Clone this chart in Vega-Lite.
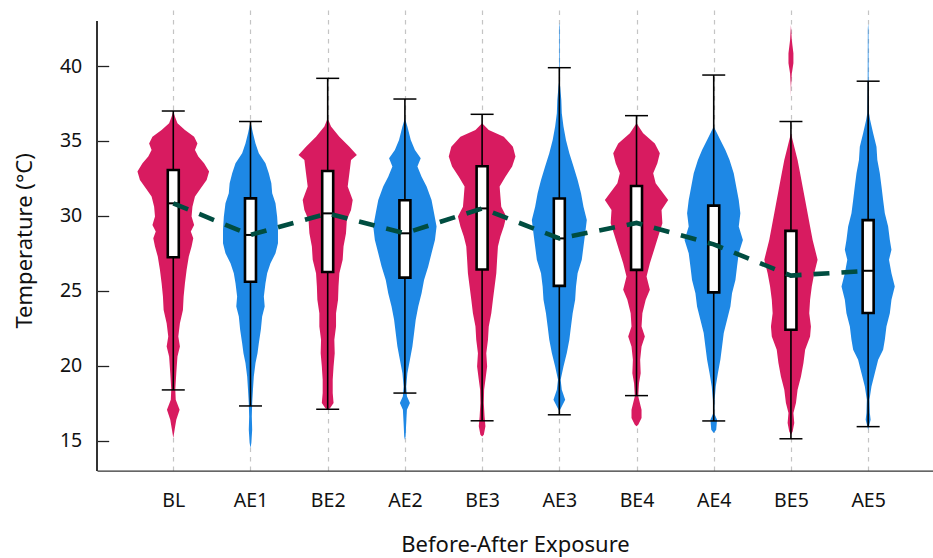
{
  "$schema": "https://vega.github.io/schema/vega-lite/v6.json",
  "width": 836,
  "height": 460.7,
  "autosize": {"type": "none"},
  "padding": {"left": 97, "top": 10, "right": 0, "bottom": 87.3},
  "background": "white",
  "config": {
    "view": {"stroke": null},
    "font": "Noto Sans",
    "axis": {
      "labelFont": "Noto Sans",
      "labelFontSize": 19.5,
      "labelColor": "#111111",
      "titleFont": "Noto Sans",
      "titleFontSize": 22,
      "titleFontWeight": "normal",
      "titleColor": "#111111"
    },
    "axisX": {
      "grid": true,
      "gridColor": "#c4c4c4",
      "gridDash": [4.5, 5],
      "gridWidth": 1.2,
      "ticks": false,
      "domainColor": "#333333",
      "domainWidth": 1.2,
      "labelPadding": 21,
      "labelFlush": false,
      "labelOverlap": false,
      "titlePadding": 24
    },
    "axisY": {
      "grid": false,
      "domain": false,
      "tickSize": -11.7,
      "tickColor": "#222222",
      "tickWidth": 1.3,
      "labelPadding": 27,
      "titlePadding": 23
    }
  },
  "datasets": {
    "summary": [
      {"g": "BL", "i": 1, "p": "Before", "lo": 18.39, "q1": 27.24, "med": 30.84, "q3": 33.06, "hi": 37.0},
      {"g": "AE1", "i": 2, "p": "After", "lo": 17.32, "q1": 25.61, "med": 28.73, "q3": 31.17, "hi": 36.3},
      {"g": "BE2", "i": 3, "p": "Before", "lo": 17.1, "q1": 26.26, "med": 30.17, "q3": 33.0, "hi": 39.18},
      {"g": "AE2", "i": 4, "p": "After", "lo": 18.18, "q1": 25.88, "med": 28.84, "q3": 31.05, "hi": 37.8},
      {"g": "BE3", "i": 5, "p": "Before", "lo": 16.33, "q1": 26.42, "med": 30.5, "q3": 33.31, "hi": 36.78},
      {"g": "AE3", "i": 6, "p": "After", "lo": 16.73, "q1": 25.33, "med": 28.5, "q3": 31.16, "hi": 39.89},
      {"g": "BE4", "i": 7, "p": "Before", "lo": 18.01, "q1": 26.4, "med": 29.53, "q3": 32.0, "hi": 36.69},
      {"g": "AE4", "i": 8, "p": "After", "lo": 16.32, "q1": 24.9, "med": 28.1, "q3": 30.69, "hi": 39.4},
      {"g": "BE5", "i": 9, "p": "Before", "lo": 15.13, "q1": 22.4, "med": 26.02, "q3": 29.0, "hi": 36.3},
      {"g": "AE5", "i": 10, "p": "After", "lo": 15.94, "q1": 23.52, "med": 26.34, "q3": 29.72, "hi": 38.99}
    ],
    "violin": [
      {"g":"BL","t":36.96,"w":0},{"g":"BL","t":36.62,"w":0.022},{"g":"BL","t":36.18,"w":0.054},{"g":"BL","t":35.73,"w":0.151},{"g":"BL","t":35.29,"w":0.27},{"g":"BL","t":34.84,"w":0.313},{"g":"BL","t":34.4,"w":0.281},{"g":"BL","t":33.96,"w":0.324},{"g":"BL","t":33.51,"w":0.399},{"g":"BL","t":32.96,"w":0.464},{"g":"BL","t":32.4,"w":0.432},{"g":"BL","t":31.84,"w":0.356},{"g":"BL","t":31.29,"w":0.281},{"g":"BL","t":30.62,"w":0.248},{"g":"BL","t":29.96,"w":0.237},{"g":"BL","t":29.4,"w":0.27},{"g":"BL","t":28.96,"w":0.227},{"g":"BL","t":28.51,"w":0.259},{"g":"BL","t":27.96,"w":0.237},{"g":"BL","t":27.29,"w":0.201},{"g":"BL","t":26.4,"w":0.173},{"g":"BL","t":25.51,"w":0.151},{"g":"BL","t":24.62,"w":0.134},{"g":"BL","t":23.73,"w":0.125},{"g":"BL","t":22.84,"w":0.086},{"g":"BL","t":21.96,"w":0.065},{"g":"BL","t":21.29,"w":0.086},{"g":"BL","t":20.62,"w":0.054},{"g":"BL","t":19.51,"w":0.039},{"g":"BL","t":18.4,"w":0.026},{"g":"BL","t":17.73,"w":0.032},{"g":"BL","t":17.07,"w":0.082},{"g":"BL","t":16.4,"w":0.039},{"g":"BL","t":15.73,"w":0.017},{"g":"BL","t":15.18,"w":0},
      {"g":"AE1","t":36.29,"w":0},{"g":"AE1","t":35.51,"w":0.032},{"g":"AE1","t":34.84,"w":0.065},{"g":"AE1","t":34.18,"w":0.108},{"g":"AE1","t":33.51,"w":0.194},{"g":"AE1","t":32.84,"w":0.237},{"g":"AE1","t":32.18,"w":0.27},{"g":"AE1","t":31.51,"w":0.281},{"g":"AE1","t":30.84,"w":0.324},{"g":"AE1","t":29.96,"w":0.345},{"g":"AE1","t":29.07,"w":0.356},{"g":"AE1","t":28.18,"w":0.356},{"g":"AE1","t":27.51,"w":0.324},{"g":"AE1","t":26.84,"w":0.259},{"g":"AE1","t":26.18,"w":0.216},{"g":"AE1","t":25.51,"w":0.194},{"g":"AE1","t":24.62,"w":0.173},{"g":"AE1","t":23.95,"w":0.184},{"g":"AE1","t":23.29,"w":0.151},{"g":"AE1","t":22.4,"w":0.134},{"g":"AE1","t":21.51,"w":0.108},{"g":"AE1","t":20.84,"w":0.091},{"g":"AE1","t":20.18,"w":0.065},{"g":"AE1","t":19.29,"w":0.043},{"g":"AE1","t":18.4,"w":0.032},{"g":"AE1","t":17.51,"w":0.022},{"g":"AE1","t":16.62,"w":0.017},{"g":"AE1","t":15.73,"w":0.022},{"g":"AE1","t":14.84,"w":0.011},{"g":"AE1","t":14.51,"w":0},
      {"g":"BE2","t":36.51,"w":0},{"g":"BE2","t":35.96,"w":0.043},{"g":"BE2","t":35.29,"w":0.151},{"g":"BE2","t":34.62,"w":0.281},{"g":"BE2","t":34.07,"w":0.378},{"g":"BE2","t":33.73,"w":0.302},{"g":"BE2","t":32.84,"w":0.281},{"g":"BE2","t":31.96,"w":0.259},{"g":"BE2","t":31.07,"w":0.324},{"g":"BE2","t":30.4,"w":0.302},{"g":"BE2","t":29.73,"w":0.248},{"g":"BE2","t":28.84,"w":0.237},{"g":"BE2","t":27.96,"w":0.205},{"g":"BE2","t":27.07,"w":0.194},{"g":"BE2","t":26.18,"w":0.151},{"g":"BE2","t":25.29,"w":0.14},{"g":"BE2","t":24.4,"w":0.134},{"g":"BE2","t":23.51,"w":0.108},{"g":"BE2","t":22.62,"w":0.108},{"g":"BE2","t":21.73,"w":0.086},{"g":"BE2","t":20.84,"w":0.091},{"g":"BE2","t":19.96,"w":0.076},{"g":"BE2","t":19.07,"w":0.065},{"g":"BE2","t":18.18,"w":0.065},{"g":"BE2","t":17.51,"w":0.076},{"g":"BE2","t":17.18,"w":0.032},{"g":"BE2","t":17.07,"w":0},
      {"g":"AE2","t":36.51,"w":0},{"g":"AE2","t":35.96,"w":0.032},{"g":"AE2","t":35.07,"w":0.076},{"g":"AE2","t":34.4,"w":0.13},{"g":"AE2","t":33.84,"w":0.205},{"g":"AE2","t":33.29,"w":0.162},{"g":"AE2","t":32.62,"w":0.216},{"g":"AE2","t":31.96,"w":0.281},{"g":"AE2","t":31.07,"w":0.345},{"g":"AE2","t":30.18,"w":0.378},{"g":"AE2","t":29.29,"w":0.41},{"g":"AE2","t":28.4,"w":0.389},{"g":"AE2","t":27.51,"w":0.345},{"g":"AE2","t":26.62,"w":0.302},{"g":"AE2","t":25.73,"w":0.248},{"g":"AE2","t":24.84,"w":0.216},{"g":"AE2","t":23.95,"w":0.173},{"g":"AE2","t":23.07,"w":0.14},{"g":"AE2","t":22.18,"w":0.119},{"g":"AE2","t":21.29,"w":0.097},{"g":"AE2","t":20.4,"w":0.065},{"g":"AE2","t":19.51,"w":0.032},{"g":"AE2","t":18.62,"w":0.017},{"g":"AE2","t":17.96,"w":0.026},{"g":"AE2","t":17.51,"w":0.065},{"g":"AE2","t":17.07,"w":0.026},{"g":"AE2","t":16.18,"w":0.017},{"g":"AE2","t":15.29,"w":0.009},{"g":"AE2","t":15.07,"w":0},
      {"g":"BE3","t":36.18,"w":0},{"g":"BE3","t":35.74,"w":0.086},{"g":"BE3","t":35.29,"w":0.281},{"g":"BE3","t":34.62,"w":0.399},{"g":"BE3","t":33.96,"w":0.432},{"g":"BE3","t":33.29,"w":0.389},{"g":"BE3","t":32.62,"w":0.302},{"g":"BE3","t":31.96,"w":0.227},{"g":"BE3","t":31.29,"w":0.237},{"g":"BE3","t":30.62,"w":0.248},{"g":"BE3","t":29.96,"w":0.313},{"g":"BE3","t":29.29,"w":0.281},{"g":"BE3","t":28.62,"w":0.237},{"g":"BE3","t":27.96,"w":0.205},{"g":"BE3","t":27.07,"w":0.194},{"g":"BE3","t":26.18,"w":0.184},{"g":"BE3","t":25.29,"w":0.162},{"g":"BE3","t":24.4,"w":0.14},{"g":"BE3","t":23.51,"w":0.119},{"g":"BE3","t":22.62,"w":0.086},{"g":"BE3","t":21.73,"w":0.076},{"g":"BE3","t":20.84,"w":0.054},{"g":"BE3","t":19.96,"w":0.065},{"g":"BE3","t":19.07,"w":0.043},{"g":"BE3","t":18.4,"w":0.026},{"g":"BE3","t":17.51,"w":0.022},{"g":"BE3","t":16.62,"w":0.032},{"g":"BE3","t":15.96,"w":0.043},{"g":"BE3","t":15.4,"w":0.022},{"g":"BE3","t":15.29,"w":0},
      {"g":"AE3","t":42.9,"w":0},{"g":"AE3","t":42.6,"w":0.004},{"g":"AE3","t":38.9,"w":0.004},{"g":"AE3","t":38.62,"w":0.011},{"g":"AE3","t":37.73,"w":0.026},{"g":"AE3","t":36.85,"w":0.032},{"g":"AE3","t":35.96,"w":0.054},{"g":"AE3","t":35.07,"w":0.086},{"g":"AE3","t":34.18,"w":0.13},{"g":"AE3","t":33.29,"w":0.184},{"g":"AE3","t":32.4,"w":0.237},{"g":"AE3","t":31.51,"w":0.281},{"g":"AE3","t":30.62,"w":0.313},{"g":"AE3","t":29.73,"w":0.356},{"g":"AE3","t":28.85,"w":0.335},{"g":"AE3","t":27.96,"w":0.313},{"g":"AE3","t":27.07,"w":0.291},{"g":"AE3","t":26.18,"w":0.237},{"g":"AE3","t":25.29,"w":0.216},{"g":"AE3","t":24.4,"w":0.205},{"g":"AE3","t":23.51,"w":0.173},{"g":"AE3","t":22.62,"w":0.151},{"g":"AE3","t":21.73,"w":0.13},{"g":"AE3","t":20.85,"w":0.097},{"g":"AE3","t":19.96,"w":0.054},{"g":"AE3","t":19.07,"w":0.017},{"g":"AE3","t":18.4,"w":0.032},{"g":"AE3","t":17.73,"w":0.076},{"g":"AE3","t":17.18,"w":0.022},{"g":"AE3","t":16.96,"w":0},
      {"g":"BE4","t":36.18,"w":0},{"g":"BE4","t":35.51,"w":0.086},{"g":"BE4","t":34.84,"w":0.237},{"g":"BE4","t":34.18,"w":0.302},{"g":"BE4","t":33.51,"w":0.27},{"g":"BE4","t":32.84,"w":0.216},{"g":"BE4","t":32.18,"w":0.248},{"g":"BE4","t":31.51,"w":0.345},{"g":"BE4","t":31.07,"w":0.41},{"g":"BE4","t":30.4,"w":0.324},{"g":"BE4","t":29.51,"w":0.335},{"g":"BE4","t":28.62,"w":0.281},{"g":"BE4","t":27.73,"w":0.227},{"g":"BE4","t":26.84,"w":0.173},{"g":"BE4","t":25.96,"w":0.13},{"g":"BE4","t":25.07,"w":0.173},{"g":"BE4","t":24.4,"w":0.119},{"g":"BE4","t":23.51,"w":0.076},{"g":"BE4","t":22.62,"w":0.065},{"g":"BE4","t":21.96,"w":0.108},{"g":"BE4","t":21.29,"w":0.065},{"g":"BE4","t":20.4,"w":0.047},{"g":"BE4","t":19.51,"w":0.054},{"g":"BE4","t":18.84,"w":0.032},{"g":"BE4","t":17.96,"w":0.022},{"g":"BE4","t":17.07,"w":0.065},{"g":"BE4","t":16.51,"w":0.065},{"g":"BE4","t":16.07,"w":0.022},{"g":"BE4","t":15.96,"w":0},
      {"g":"AE4","t":35.96,"w":0},{"g":"AE4","t":35.07,"w":0.086},{"g":"AE4","t":34.4,"w":0.151},{"g":"AE4","t":33.73,"w":0.205},{"g":"AE4","t":32.84,"w":0.259},{"g":"AE4","t":31.96,"w":0.291},{"g":"AE4","t":31.07,"w":0.324},{"g":"AE4","t":30.18,"w":0.345},{"g":"AE4","t":29.29,"w":0.324},{"g":"AE4","t":28.4,"w":0.378},{"g":"AE4","t":27.51,"w":0.324},{"g":"AE4","t":26.62,"w":0.302},{"g":"AE4","t":25.73,"w":0.281},{"g":"AE4","t":24.84,"w":0.237},{"g":"AE4","t":23.96,"w":0.216},{"g":"AE4","t":23.07,"w":0.173},{"g":"AE4","t":22.18,"w":0.13},{"g":"AE4","t":21.29,"w":0.108},{"g":"AE4","t":20.4,"w":0.086},{"g":"AE4","t":19.51,"w":0.054},{"g":"AE4","t":18.62,"w":0.026},{"g":"AE4","t":17.73,"w":0.011},{"g":"AE4","t":16.84,"w":0.006},{"g":"AE4","t":16.4,"w":0.043},{"g":"AE4","t":15.73,"w":0.032},{"g":"AE4","t":15.51,"w":0},
      {"g":"BE5","t":42.74,"w":0},{"g":"BE5","t":41.74,"w":0.011},{"g":"BE5","t":40.85,"w":0.032},{"g":"BE5","t":40.18,"w":0.032},{"g":"BE5","t":39.51,"w":0.011},{"g":"BE5","t":38.62,"w":0.002},{"g":"BE5","t":37.96,"w":0},{"g":"BE5","t":35.51,"w":0},{"g":"BE5","t":34.62,"w":0.043},{"g":"BE5","t":33.73,"w":0.086},{"g":"BE5","t":32.85,"w":0.119},{"g":"BE5","t":31.96,"w":0.151},{"g":"BE5","t":31.07,"w":0.184},{"g":"BE5","t":30.18,"w":0.216},{"g":"BE5","t":29.29,"w":0.248},{"g":"BE5","t":28.4,"w":0.281},{"g":"BE5","t":27.51,"w":0.324},{"g":"BE5","t":27.07,"w":0.345},{"g":"BE5","t":26.18,"w":0.302},{"g":"BE5","t":25.29,"w":0.27},{"g":"BE5","t":24.4,"w":0.248},{"g":"BE5","t":23.51,"w":0.237},{"g":"BE5","t":22.62,"w":0.259},{"g":"BE5","t":21.96,"w":0.248},{"g":"BE5","t":21.07,"w":0.184},{"g":"BE5","t":20.18,"w":0.162},{"g":"BE5","t":19.29,"w":0.13},{"g":"BE5","t":18.4,"w":0.086},{"g":"BE5","t":17.51,"w":0.065},{"g":"BE5","t":16.85,"w":0.032},{"g":"BE5","t":16.18,"w":0.043},{"g":"BE5","t":15.62,"w":0.022},{"g":"BE5","t":15.4,"w":0},
      {"g":"AE5","t":42.85,"w":0},{"g":"AE5","t":42.5,"w":0.004},{"g":"AE5","t":38.62,"w":0.006},{"g":"AE5","t":36.85,"w":0.011},{"g":"AE5","t":36.4,"w":0.026},{"g":"AE5","t":35.51,"w":0.065},{"g":"AE5","t":34.62,"w":0.108},{"g":"AE5","t":33.73,"w":0.119},{"g":"AE5","t":32.85,"w":0.151},{"g":"AE5","t":31.96,"w":0.173},{"g":"AE5","t":31.07,"w":0.194},{"g":"AE5","t":30.18,"w":0.216},{"g":"AE5","t":29.29,"w":0.259},{"g":"AE5","t":28.4,"w":0.281},{"g":"AE5","t":27.74,"w":0.302},{"g":"AE5","t":27.07,"w":0.27},{"g":"AE5","t":26.18,"w":0.302},{"g":"AE5","t":25.29,"w":0.345},{"g":"AE5","t":24.4,"w":0.302},{"g":"AE5","t":23.51,"w":0.281},{"g":"AE5","t":22.62,"w":0.237},{"g":"AE5","t":21.73,"w":0.216},{"g":"AE5","t":21.07,"w":0.194},{"g":"AE5","t":20.4,"w":0.13},{"g":"AE5","t":19.51,"w":0.086},{"g":"AE5","t":18.62,"w":0.043},{"g":"AE5","t":17.74,"w":0.017},{"g":"AE5","t":16.85,"w":0.022},{"g":"AE5","t":16.4,"w":0.032},{"g":"AE5","t":15.96,"w":0.011},{"g":"AE5","t":15.74,"w":0}
    ]
  },
  "layer": [
    {
      "data": {"name": "violin"},
      "transform": [
        {"calculate": "indexof(['BL', 'AE1', 'BE2', 'AE2', 'BE3', 'AE3', 'BE4', 'AE4', 'BE5', 'AE5'], datum.g) + 1", "as": "i"},
        {"calculate": "substring(datum.g, 0, 1) == 'A' ? 'After' : 'Before'", "as": "p"},
        {"calculate": "datum.i - datum.w", "as": "left"},
        {"calculate": "datum.i + datum.w", "as": "right"}
      ],
      "mark": {"type": "area", "orient": "horizontal", "interpolate": "linear", "opacity": 1},
      "encoding": {
        "y": {
          "field": "t", "type": "quantitative",
          "scale": {"domain": [13, 43.74], "nice": false, "zero": false},
          "axis": {
            "title": "Temperature (°C)",
            "values": [15, 20, 25, 30, 35, 40]
          }
        },
        "x": {
          "field": "left", "type": "quantitative",
          "scale": {"domain": [0.012, 10.84], "nice": false, "zero": false, "padding": 0},
          "axis": {
            "title": "Before-After Exposure",
            "values": [1, 2, 3, 4, 5, 6, 7, 8, 9, 10],
            "labelExpr": "['', 'BL', 'AE1', 'BE2', 'AE2', 'BE3', 'AE3', 'BE4', 'AE4', 'BE5', 'AE5'][datum.value]"
          }
        },
        "x2": {"field": "right"},
        "detail": {"field": "g"},
        "color": {"field": "p", "type": "nominal", "scale": {"domain": ["Before", "After"], "range": ["#D81B60", "#1E88E5"]}, "legend": null}
      }
    },
    {
      "data": {"name": "summary"},
      "mark": {"type": "rule", "color": "#333333", "strokeWidth": 1.2},
      "encoding": {
        "x": {"datum": 0.012, "type": "quantitative"},
        "y": {"datum": 13, "type": "quantitative"},
        "y2": {"datum": 43}
      }
    },
    {
      "data": {"name": "summary"},
      "mark": {"type": "rule", "color": "black", "strokeWidth": 1.6},
      "encoding": {
        "x": {"field": "i", "type": "quantitative"},
        "y": {"field": "lo", "type": "quantitative"},
        "y2": {"field": "hi"}
      }
    },
    {
      "data": {"name": "summary"},
      "mark": {"type": "tick", "orient": "horizontal", "color": "black", "size": 23, "thickness": 1.5, "opacity": 1},
      "encoding": {
        "x": {"field": "i", "type": "quantitative"},
        "y": {"field": "lo", "type": "quantitative"}
      }
    },
    {
      "data": {"name": "summary"},
      "mark": {"type": "tick", "orient": "horizontal", "color": "black", "size": 23, "thickness": 1.5, "opacity": 1},
      "encoding": {
        "x": {"field": "i", "type": "quantitative"},
        "y": {"field": "hi", "type": "quantitative"}
      }
    },
    {
      "data": {"name": "summary"},
      "mark": {"type": "bar", "size": 11, "fill": "white", "stroke": "black", "strokeWidth": 2.6},
      "encoding": {
        "x": {"field": "i", "type": "quantitative"},
        "y": {"field": "q1", "type": "quantitative"},
        "y2": {"field": "q3"}
      }
    },
    {
      "data": {"name": "summary"},
      "mark": {"type": "tick", "orient": "horizontal", "color": "black", "size": 12, "thickness": 2, "opacity": 1},
      "encoding": {
        "x": {"field": "i", "type": "quantitative"},
        "y": {"field": "med", "type": "quantitative"}
      }
    },
    {
      "data": {"name": "summary"},
      "mark": {"type": "line", "color": "#004D40", "strokeWidth": 4.6, "strokeDash": [16, 12]},
      "encoding": {
        "x": {"field": "i", "type": "quantitative"},
        "y": {"field": "med", "type": "quantitative"}
      }
    }
  ]
}
